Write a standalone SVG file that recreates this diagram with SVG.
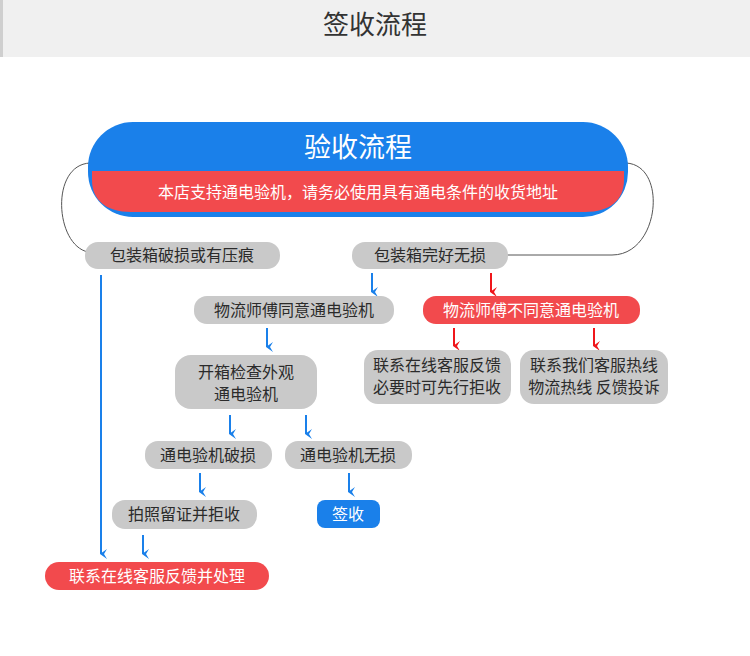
<svg xmlns="http://www.w3.org/2000/svg" width="750" height="656" viewBox="0 0 750 656">
<defs>
<style>
text{font-family:"Noto Sans CJK SC","Liberation Sans",sans-serif;text-anchor:middle}
.g{fill:#c9c9c9}
.r{fill:#f24a4d}
.b{fill:#1a80ea}
.t{font-size:16px;fill:#2b2b2b}
.w{font-size:16px;fill:#fff}
.lb{stroke:#1a80ea;stroke-width:2;fill:none}
.lr{stroke:#f0161b;stroke-width:2;fill:none}
</style>
<marker id="ab" markerWidth="10" markerHeight="10" refX="5" refY="8" orient="auto" markerUnits="userSpaceOnUse" viewBox="0 0 10 10"><path d="M0,2 L5,9 L10,2 L5,5 Z" fill="#1a80ea"/></marker>
<marker id="ar" markerWidth="10" markerHeight="10" refX="5" refY="8" orient="auto" markerUnits="userSpaceOnUse" viewBox="0 0 10 10"><path d="M0,2 L5,9 L10,2 L5,5 Z" fill="#f0161b"/></marker>
</defs>
<rect width="750" height="656" fill="#fff"/>
<g id="header"><rect x="0" y="0" width="750" height="57" fill="#f0f0f0"/><rect x="0" y="0" width="3" height="57" fill="#cfcfcf"/><text x="375" y="34" style="font-size:26px;fill:#333">签收流程</text></g>
<g id="connectors">
<path d="M90,163 C50,165 55,245 88,252" stroke="#555" stroke-width="1" fill="none"/>
<path d="M626,163 C668,165 660,255 612,255 L507,255" stroke="#555" stroke-width="1" fill="none"/>
<path class="lb" d="M372,273 V292" marker-end="url(#ab)"/>
<path class="lr" d="M491,273 V292" marker-end="url(#ar)"/>
<path class="lb" d="M267,328 V347" marker-end="url(#ab)"/>
<path class="lr" d="M454,328 V346" marker-end="url(#ar)"/>
<path class="lr" d="M594,328 V346" marker-end="url(#ar)"/>
<path class="lb" d="M230,415 V434" marker-end="url(#ab)"/>
<path class="lb" d="M306,415 V434" marker-end="url(#ab)"/>
<path class="lb" d="M200,473 V492" marker-end="url(#ab)"/>
<path class="lb" d="M349,473 V492" marker-end="url(#ab)"/>
<path class="lb" d="M101,275 V554" marker-end="url(#ab)"/>
<path class="lb" d="M143,535 V554" marker-end="url(#ab)"/>
</g>
<g id="main"><rect x="88" y="122" width="540" height="95" rx="45" class="b"/><path d="M92,171 H624 V180 C624,200 610,212 585,212 H131 C106,212 92,200 92,180 Z" class="r"/><text x="358" y="157" style="font-size:27px;fill:#fff">验收流程</text><text x="358" y="198" class="w">本店支持通电验机，请务必使用具有通电条件的收货地址</text></g>
<g id="n1"><rect x="85" y="242" width="195" height="27" rx="13" class="g"/><text x="182" y="261" class="t">包装箱破损或有压痕</text></g>
<g id="n2"><rect x="352" y="242" width="156" height="27" rx="13" class="g"/><text x="430" y="261" class="t">包装箱完好无损</text></g>
<g id="n3"><rect x="194" y="296" width="200" height="28" rx="13" class="g"/><text x="294" y="316" class="t">物流师傅同意通电验机</text></g>
<g id="n4"><rect x="423" y="296" width="217" height="28" rx="13" class="r"/><text x="531" y="316" class="w">物流师傅不同意通电验机</text></g>
<g id="n5"><rect x="364" y="350" width="147" height="54" rx="14" class="g"/><text x="437" y="371" class="t">联系在线客服反馈</text><text x="437" y="393" class="t">必要时可先行拒收</text></g>
<g id="n6"><rect x="520" y="350" width="148" height="54" rx="14" class="g"/><text x="594" y="371" class="t">联系我们客服热线</text><text x="594" y="393" class="t">物流热线 反馈投诉</text></g>
<g id="n7"><rect x="175" y="355" width="142" height="54" rx="16" class="g"/><text x="246" y="378" class="t">开箱检查外观</text><text x="246" y="400" class="t">通电验机</text></g>
<g id="n8"><rect x="145" y="441" width="127" height="28" rx="13" class="g"/><text x="208" y="461" class="t">通电验机破损</text></g>
<g id="n9"><rect x="285" y="441" width="127" height="28" rx="13" class="g"/><text x="348" y="461" class="t">通电验机无损</text></g>
<g id="n10"><rect x="112" y="500" width="145" height="29" rx="13" class="g"/><text x="184" y="520" class="t">拍照留证并拒收</text></g>
<g id="n11"><rect x="317" y="500" width="63" height="28" rx="8" class="b"/><text x="348" y="520" class="w">签收</text></g>
<g id="n12"><rect x="45" y="562" width="224" height="28" rx="14" class="r"/><text x="157" y="582" class="w">联系在线客服反馈并处理</text></g>
</svg>
